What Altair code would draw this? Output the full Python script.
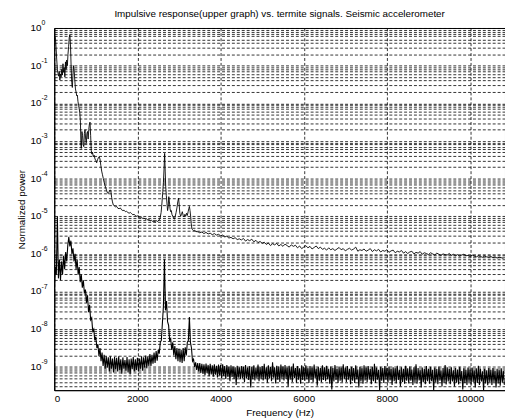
import altair as alt
import pandas as pd

FONT = "Liberation Sans"
TITLE = "Impulsive response(upper graph) vs. termite signals. Seismic accelerometer"

# ---- upper curve (impulsive response): frequency (Hz) and log10(power) ----
upper_freq_head = [
    0, 15, 30, 45, 60, 75, 90, 105, 120, 135, 150, 165, 180, 195, 210, 225, 240, 255, 270, 285,
    300, 315, 330, 345, 360, 375, 390, 405, 420, 435, 450, 465, 480, 495, 510, 525, 540, 555, 570, 585,
    600, 615, 630, 640, 650, 665, 680, 695, 710, 725, 740, 755, 770, 785, 800, 815, 830, 845, 860, 875,
    890, 905, 920, 940, 960, 980, 1000, 1020, 1040, 1060, 1080, 1100, 1120, 1140, 1160, 1180, 1200, 1220, 1240, 1260,
    1280, 1300, 1320, 1340, 1360, 1380, 1400, 1420, 1440, 1470, 1500, 1530, 1560, 1590, 1620, 1650, 1680, 1710, 1740, 1770,
    1800, 1830, 1860, 1890, 1920, 1950, 1980, 2010, 2040, 2070, 2100, 2130, 2160, 2190, 2220, 2250, 2280, 2310, 2340, 2370,
    2400, 2430, 2460, 2490, 2520, 2545, 2570, 2590, 2610, 2625, 2640, 2655, 2668, 2680, 2695, 2710, 2725, 2740, 2755, 2770,
    2785, 2800, 2815, 2830, 2850, 2870, 2890, 2910, 2930, 2950, 2970, 2990, 3005, 3020, 3040, 3060, 3080, 3100, 3120, 3140,
    3160, 3180, 3200, 3220, 3235, 3250, 3265, 3280, 3295, 3310, 3330, 3350, 3370, 3390, 3410, 3430,
]
upper_logp_head = [
    -0.35, -0.22, -0.30, -0.55, -0.85, -1.10, -1.20, -1.28, -1.15, -1.38, -1.22, -1.30, -1.10, -1.25, -0.95, -1.18, -1.05, -1.30, -0.90, -1.10,
    -0.85, -1.00, -0.70, -0.50, -0.25, -0.18, -0.45, -1.00, -1.45, -1.58, -1.25, -1.00, -1.15, -1.40, -1.62, -1.70, -1.80, -1.78, -1.95, -2.05,
    -2.15, -2.25, -2.50, -3.05, -3.20, -2.75, -2.85, -3.10, -3.15, -2.80, -2.70, -2.95, -3.05, -2.80, -2.75, -2.95, -2.70, -2.55, -2.50, -2.85,
    -3.25, -3.35, -3.30, -3.42, -3.38, -3.48, -3.52, -3.58, -3.50, -3.45, -3.42, -3.48, -3.65, -3.80, -3.90, -4.00, -4.10, -4.18, -4.25, -4.32,
    -4.38, -4.40, -4.35, -4.30, -4.32, -4.50, -4.62, -4.70, -4.72, -4.75, -4.74, -4.79, -4.80, -4.78, -4.83, -4.85, -4.84, -4.88, -4.87, -4.90,
    -4.92, -4.90, -4.93, -4.96, -4.95, -4.98, -5.00, -4.99, -5.02, -5.04, -5.03, -5.06, -5.05, -5.08, -5.07, -5.10, -5.09, -5.12, -5.11, -5.14,
    -5.13, -5.15, -5.12, -5.14, -5.10, -5.05, -4.90, -4.65, -4.35, -4.10, -3.75, -3.33, -3.80, -4.20, -4.45, -4.65, -4.85, -4.75, -4.48, -4.62,
    -4.80, -4.88, -4.85, -4.95, -5.00, -5.05, -5.08, -5.00, -4.90, -4.78, -4.62, -4.52, -4.70, -4.92, -5.00, -4.95, -4.88, -4.98, -5.02, -4.95,
    -5.00, -4.92, -4.98, -4.88, -4.80, -4.74, -4.85, -5.00, -5.20, -5.34, -5.36, -5.38, -5.37, -5.40, -5.39, -5.42,
]
upper_tail_start = 3450
upper_tail_step = 50
upper_logp_tail = [
    -5.41, -5.44, -5.42, -5.46, -5.43, -5.47, -5.45, -5.49, -5.46, -5.50,
    -5.48, -5.52, -5.50, -5.55, -5.53, -5.58, -5.56, -5.60, -5.57, -5.62,
    -5.60, -5.63, -5.59, -5.66, -5.62, -5.65, -5.61, -5.68, -5.64, -5.70,
    -5.67, -5.72, -5.69, -5.75, -5.71, -5.78, -5.73, -5.76, -5.72, -5.79,
    -5.75, -5.80, -5.74, -5.78, -5.82, -5.76, -5.80, -5.77, -5.84, -5.79,
    -5.86, -5.82, -5.78, -5.84, -5.80, -5.87, -5.83, -5.79, -5.86, -5.82,
    -5.88, -5.85, -5.90, -5.84, -5.89, -5.86, -5.91, -5.87, -5.83, -5.89,
    -5.86, -5.92, -5.88, -5.85, -5.90, -5.87, -5.82, -5.93, -5.89, -5.91,
    -5.87, -5.93, -5.90, -5.86, -5.94, -5.89, -5.92, -5.88, -5.95, -5.91,
    -5.93, -5.89, -5.96, -5.92, -5.90, -5.97, -5.93, -5.95, -5.91, -5.98,
    -5.94, -5.99, -5.95, -5.93, -6.00, -5.96, -5.98, -5.94, -6.01, -5.97,
    -5.99, -6.02, -5.97, -6.00, -6.03, -5.98, -6.01, -6.04, -6.00, -6.02,
    -6.03, -5.99, -6.04, -6.01, -6.05, -6.02, -6.06, -6.03, -6.01, -6.05,
    -6.04, -6.07, -6.03, -6.06, -6.08, -6.05, -6.07, -6.09, -6.06, -6.08,
    -6.09, -6.07, -6.10, -6.08, -6.11, -6.09, -6.10, -6.12,
]

# ---- lower curve (termite signals): log10(power) on a 25 Hz bin grid ----
lower_step = 25
lower_logp = [
    -7.00, -6.35, -6.55, -5.00, -6.65, -6.15, -6.70, -6.20, -6.55, -6.05, -6.40, -5.95, -6.20, -5.78, -5.55, -5.80, -5.65, -6.00, -5.85, -6.20,
    -6.00, -6.40, -6.15, -6.55, -6.35, -6.75, -6.55, -6.90, -6.70, -7.05, -6.95, -7.30, -7.10, -7.55, -7.35, -7.75, -7.70, -8.05, -8.00, -8.30,
    -8.20, -8.50, -8.40, -8.72, -8.50, -8.85, -8.62, -8.98, -8.68, -9.05, -8.72, -9.02, -8.75, -9.12, -8.72, -9.05, -8.78, -9.15, -8.74, -9.06,
    -8.76, -9.12, -8.72, -9.08, -8.80, -9.18, -8.75, -9.05, -8.82, -9.10, -8.74, -9.15, -8.80, -9.20, -8.78, -9.06, -8.74, -9.12, -8.80, -9.08,
    -8.76, -9.12, -8.78, -9.05, -8.72, -9.10, -8.75, -9.02, -8.70, -9.04, -8.72, -8.98, -8.66, -8.98, -8.68, -8.92, -8.62, -8.90, -8.58, -8.84,
    -8.55, -8.65, -8.35, -8.30, -7.85, -7.40, -6.14, -7.50, -7.25, -7.80, -7.90, -8.30, -8.25, -8.55, -8.35, -8.70, -8.45, -8.80, -8.50, -8.85,
    -8.52, -8.88, -8.55, -8.90, -8.50, -8.85, -8.48, -8.70, -8.35, -8.30, -7.68, -8.35, -8.50, -8.85, -8.80, -9.00, -8.88, -9.08, -8.90, -9.12,
    -8.90, -9.16, -8.92, -9.18, -8.93, -9.22, -8.91, -9.17, -8.95, -9.25, -8.92, -9.20, -8.96, -9.26, -8.93, -9.21, -8.97, -9.28, -8.94, -9.23,
    -8.95, -9.30, -8.93, -9.24, -8.98, -9.32, -8.95, -9.26, -9.00, -9.38, -8.96, -9.27, -8.99, -9.32, -9.01, -9.48, -8.97, -9.29, -9.01, -9.33,
    -8.98, -9.30, -9.00, -9.40, -8.95, -9.31, -9.02, -9.35, -8.98, -9.55, -9.00, -9.33, -8.96, -9.36, -9.02, -9.31, -8.94, -9.38, -9.00, -9.33,
    -8.98, -9.36, -8.92, -9.33, -9.01, -9.42, -8.96, -9.31, -9.00, -9.38, -8.88, -9.29, -9.01, -9.44, -8.97, -9.34, -8.99, -9.40, -8.94, -9.31,
    -8.99, -9.36, -8.95, -9.32, -9.02, -9.52, -8.97, -9.34, -9.00, -9.40, -8.91, -9.30, -9.03, -9.42, -8.98, -9.34, -9.04, -9.45, -8.96, -9.35,
    -9.00, -9.37, -8.96, -9.33, -9.04, -9.43, -8.98, -9.35, -9.02, -9.41, -8.94, -9.31, -9.05, -9.50, -9.00, -9.37, -9.03, -9.41, -8.96, -9.35,
    -9.01, -9.38, -8.97, -9.33, -9.05, -9.45, -8.99, -9.60, -9.03, -9.39, -8.95, -9.35, -9.06, -9.43, -8.99, -9.37, -9.02, -9.41, -8.93, -9.33,
    -9.02, -9.40, -8.98, -9.34, -9.05, -9.46, -9.00, -9.37, -9.03, -9.43, -8.96, -9.33, -9.07, -9.55, -9.00, -9.39, -9.04, -9.45, -8.96, -9.36,
    -9.02, -9.40, -8.98, -9.34, -9.06, -9.46, -9.00, -9.38, -8.92, -9.43, -9.02, -9.34, -9.08, -9.62, -9.00, -9.37, -9.03, -9.43, -8.98, -9.34,
    -9.03, -9.42, -8.99, -9.36, -9.06, -9.48, -9.01, -9.38, -9.04, -9.44, -8.97, -9.35, -9.08, -9.52, -9.01, -9.40, -9.05, -9.45, -8.97, -9.37,
    -9.04, -9.44, -8.99, -9.37, -9.07, -9.48, -9.01, -9.40, -8.93, -9.45, -9.03, -9.36, -9.09, -9.55, -9.02, -9.41, -9.06, -9.46, -8.98, -9.38,
    -9.05, -9.45, -9.00, -9.38, -9.08, -9.62, -9.02, -9.41, -9.06, -9.46, -8.99, -9.37, -9.10, -9.52, -9.03, -9.42, -8.95, -9.47, -9.01, -9.39,
    -9.06, -9.46, -9.01, -9.39, -9.09, -9.52, -9.03, -9.42, -9.07, -9.47, -9.00, -9.38, -9.11, -9.60, -9.04, -9.43, -9.08, -9.48, -9.02, -9.40,
    -9.07, -9.47, -9.02, -9.40, -9.10, -9.55, -9.04, -9.43, -8.97, -9.48, -9.05, -9.39, -9.12, -9.62, -9.05, -9.44, -9.09, -9.49, -9.03, -9.41,
    -9.08, -9.48, -9.03, -9.41, -9.11, -9.55, -9.05, -9.44, -9.09, -9.50, -9.04, -9.42, -9.11, -9.48,
]

x_ticks = [0, 2000, 4000, 6000, 8000, 10000]
x_max = 10840
decade_exponents = [0, -1, -2, -3, -4, -5, -6, -7, -8, -9]
y_min_exp = -9.62

# ---- build tables ----
upper_freq = upper_freq_head + [upper_tail_start + upper_tail_step * i for i in range(len(upper_logp_tail))]
upper_logp = upper_logp_head + upper_logp_tail
df_upper = pd.DataFrame({"freq": upper_freq, "power": [10 ** v for v in upper_logp]})
df_lower = pd.DataFrame({"freq": [lower_step * i for i in range(len(lower_logp))],
                         "power": [10 ** v for v in lower_logp]})
df_dec = pd.DataFrame({"power": [10.0 ** e for e in decade_exponents],
                       "base": ["10"] * len(decade_exponents),
                       "exp": [str(e) for e in decade_exponents]})

y_min = 10 ** y_min_exp
grid_vals = [k * 10.0 ** n for n in range(-10, 0) for k in range(1, 10) if y_min <= k * 10.0 ** n <= 1] + [1.0]

xscale = alt.Scale(domain=[0, x_max], nice=False, zero=False)
yscale = alt.Scale(type="log", domain=[y_min, 1], nice=False)

x_enc = alt.X("freq:Q", scale=xscale, axis=alt.Axis(
    values=x_ticks, format="d", grid=True, gridDash=[3, 2], gridColor="#000", gridOpacity=1,
    gridWidth=0.8, ticks=False, domainColor="#000", labelColor="#000", labelFontSize=10, labelFont=FONT,
    labelPadding=4, title="Frequency (Hz)", titleFont=FONT, titleFontSize=10, titleFontWeight="normal",
    titleColor="#000", titlePadding=4))
y_enc = alt.Y("power:Q", scale=yscale, axis=alt.Axis(
    values=grid_vals, grid=True, gridDash=[3, 2], gridColor="#000", gridOpacity=1, gridWidth=0.8,
    labels=False, ticks=False, domainColor="#000", title="Normalized power", titleFont=FONT,
    titleFontSize=10, titleFontWeight="normal", titleColor="#000", titlePadding=28))

upper = alt.Chart(df_upper).mark_line(color="black", strokeWidth=0.9, clip=True).encode(x=x_enc, y=y_enc)
lower = alt.Chart(df_lower).mark_line(color="black", strokeWidth=1.1, clip=True).encode(
    x=alt.X("freq:Q", scale=xscale), y=alt.Y("power:Q", scale=yscale))

lab_base = alt.Chart(df_dec).mark_text(align="right", baseline="middle", fontSize=10, font=FONT,
                                       color="black").encode(
    x=alt.value(-13), y=alt.Y("power:Q", scale=yscale), text="base:N")
lab_exp = alt.Chart(df_dec).mark_text(align="left", baseline="middle", fontSize=7, font=FONT, dy=-5,
                                      color="black").encode(
    x=alt.value(-13), y=alt.Y("power:Q", scale=yscale), text="exp:N")

chart = alt.layer(upper, lower, lab_base, lab_exp).properties(
    width=458, height=368,
    title=alt.Title(TITLE, fontSize=10, fontWeight="normal", font=FONT, color="black", anchor="middle", offset=0),
    autosize=alt.AutoSizeParams(type="none"),
    padding={"left": 47, "top": 17, "right": 0, "bottom": 27},
).configure_view(stroke="black", strokeWidth=1)

chart.save("out.html", embed_options={"renderer": "svg", "actions": False})
